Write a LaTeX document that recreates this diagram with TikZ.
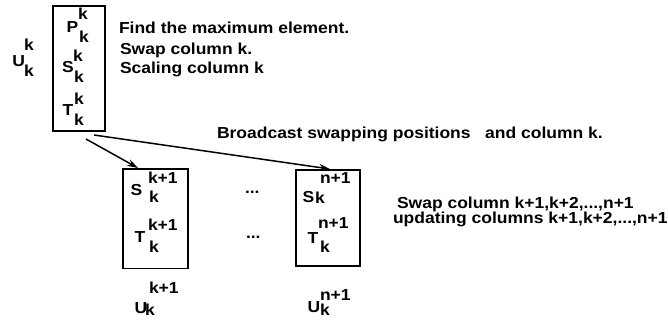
\documentclass[tikz,border=0pt]{standalone}
\usepackage{fontspec}
\setmainfont{Liberation Sans}[FakeStretch=1.1]
\usetikzlibrary{arrows.meta}
\begin{document}
\begin{tikzpicture}[x=1pt,y=-1pt,
  txt/.style={anchor=base west,inner sep=0pt,outer sep=0pt,font=\fontsize{15.9}{17}\selectfont\bfseries},
  box/.style={draw,line width=1.6pt,inner sep=0pt},
  arr/.style={line width=1.5pt,-{Stealth[length=11pt,width=7pt]}}]
\useasboundingbox (0,0) rectangle (668,321);

% column k owner
\node[box,minimum width=52pt,minimum height=125pt,anchor=north west] (b1) at (52,5) {};
\node[txt] (p)  at (66.5,33) {P};
\node[txt] (pk1) at (78,20) {k};
\node[txt] (pk2) at (79,43) {k};
\node[txt] (s)  at (62,72) {S};
\node[txt] (sk1) at (73,61.5) {k};
\node[txt] (sk2) at (74,82.5) {k};
\node[txt] (t)  at (62.5,115) {T};
\node[txt] (tk1) at (74,104) {k};
\node[txt] (tk2) at (74,125) {k};
\node[txt] (u)  at (12.5,66.5) {U};
\node[txt] (uk1) at (24,50) {k};
\node[txt] (uk2) at (24,76.5) {k};

\node[txt] (l1) at (119,33.5) {Find the maximum element.};
\node[txt] (l2) at (120,54.5) {Swap column k.};
\node[txt] (l3) at (120,74) {Scaling column k};

\node[txt] (bc) at (217,138) {Broadcast swapping positions\ \ \ and column k.};

% receiving columns
\node[box,minimum width=65pt,minimum height=99.5pt,anchor=north west] (b2) at (122,168) {};
\node[box,minimum width=64pt,minimum height=96pt,anchor=north west] (b3) at (295,169) {};

\node[txt] (s2)  at (130.5,195) {S};
\node[txt] (s2a) at (148,183) {k+1};
\node[txt] (s2b) at (149,202) {k};
\node[txt] (t2)  at (134.5,242) {T};
\node[txt] (t2a) at (148,230) {k+1};
\node[txt] (t2b) at (149,252) {k};

\node[txt] (d1) at (245,193) {...};
\node[txt] (d2) at (246,238) {...};

\node[txt] (s3)  at (302.5,202) {S};
\node[txt] (s3b) at (315,203) {k};
\node[txt] (s3a) at (320,183) {n+1};
\node[txt] (t3)  at (307.5,243) {T};
\node[txt] (t3b) at (320,252) {k};
\node[txt] (t3a) at (318,228) {n+1};

\node[txt] (u2a) at (149,293) {k+1};
\node[txt] (u2)  at (134.5,313) {U};
\node[txt] (u2b) at (145,315) {k};
\node[txt] (u3)  at (307.5,312) {U};
\node[txt] (u3b) at (320,315) {k};
\node[txt] (u3a) at (320,300) {n+1};

\node[txt] (r1) at (397,208) {Swap column k+1,k+2,...,n+1};
\node[txt] (r2) at (393,223) {updating columns k+1,k+2,...,n+1};

% broadcast arrows
\coordinate (a1s) at (86,139);
\coordinate (a2s) at (94,135);
\draw[arr] (a1s) -- ([xshift=16pt]b2.north west);
\draw[arr] (a2s) -- ([xshift=35pt]b3.north west);
\end{tikzpicture}
\end{document}
